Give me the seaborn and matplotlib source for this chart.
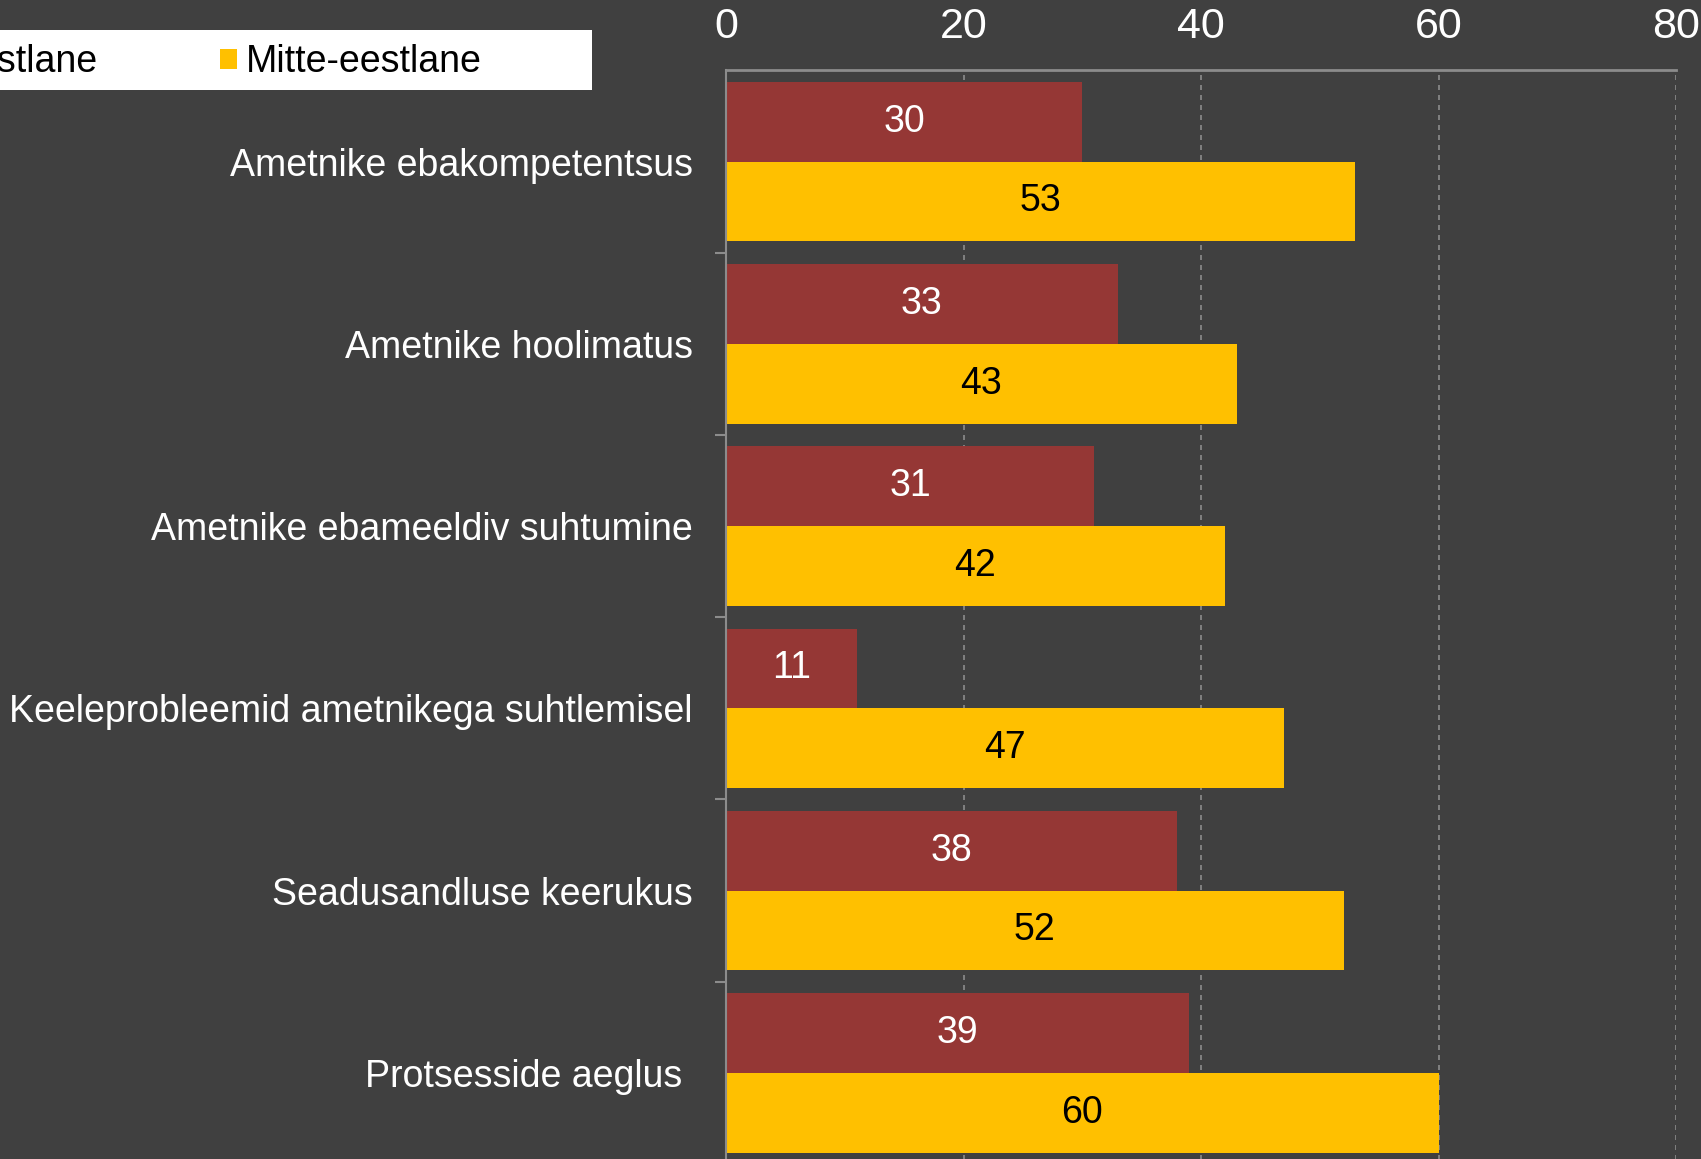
import pandas as pd
import matplotlib
matplotlib.use("Agg")
import matplotlib.pyplot as plt
import matplotlib.ticker as mticker
import seaborn as sns

# data
categories = [
    "Ametnike ebakompetentsus",
    "Ametnike hoolimatus",
    "Ametnike ebameeldiv suhtumine",
    "Keeleprobleemid ametnikega suhtlemisel",
    "Seadusandluse keerukus",
    "Protsesside aeglus ",
]
groups = ["Eestlane", "Mitte-eestlane"]
eestlane = [30, 33, 31, 11, 38, 39]
mitte_eestlane = [53, 43, 42, 47, 52, 60]
x_ticks = [0, 20, 40, 60, 80]

bg = "#404040"
red = "#953735"
yellow = "#FFC000"
grey = "#8C8C8C"

df = pd.DataFrame({
    "kategooria": categories * 2,
    "grupp": [groups[0]] * len(categories) + [groups[1]] * len(categories),
    "protsent": eestlane + mitte_eestlane,
})

sns.set_style("dark")
plt.rcParams["font.family"] = ["Liberation Sans", "DejaVu Sans"]

fig = plt.figure(figsize=(17.01, 11.59), dpi=100, facecolor=bg)
ax = fig.add_axes([726 / 1701, -0.0043, 950 / 1701, 0.9435])
ax.set_facecolor(bg)

sns.barplot(data=df, y="kategooria", x="protsent", hue="grupp",
            order=categories, hue_order=groups,
            palette=[red, yellow], orient="h", width=0.875,
            saturation=1, linewidth=0, ax=ax)

ax.set_xlim(0, 80)
ax.set_ylim(5.5, -0.5)
ax.set_xlabel("")
ax.set_ylabel("")

# x axis on top
ax.xaxis.tick_top()
ax.set_xticks(x_ticks)
ax.tick_params(axis="x", length=0, pad=17, labelsize=31, labelcolor="white")
ax.grid(axis="x", color=grey, linestyle=(0, (3, 3)), linewidth=1.2)
ax.grid(axis="y", visible=False)
ax.set_axisbelow(True)

# y axis labels and band ticks
ax.tick_params(axis="y", which="major", length=0, pad=24, labelsize=27, labelcolor="white")
ax.yaxis.set_minor_locator(mticker.FixedLocator([0.5, 1.5, 2.5, 3.5, 4.5, 5.5]))
ax.tick_params(axis="y", which="minor", length=8, width=1.5, color=grey, left=True)

for side in ["right", "bottom"]:
    ax.spines[side].set_visible(False)
ax.spines["top"].set_color(grey)
ax.spines["top"].set_linewidth(2)
ax.spines["left"].set_color(grey)
ax.spines["left"].set_linewidth(1.5)

# value labels in the middle of the bars
for cont, col in zip(ax.containers, ["white", "black"]):
    ax.bar_label(cont, label_type="center", color=col, fontsize=27)

# legend on a white strip running off the left edge
handles, labels = ax.get_legend_handles_labels()
ax.get_legend().remove()
fig.patches.append(plt.Rectangle((-0.05, 1 - 90 / 1159), 0.05 + 592 / 1701, 60 / 1159,
                                 transform=fig.transFigure, facecolor="white",
                                 edgecolor="none", zorder=0))
fig.legend(handles, labels, ncol=2, loc="center right",
           bbox_to_anchor=(482 / 1701, 1 - 62 / 1159), frameon=False,
           fontsize=27, labelcolor="black", handlelength=0.45, handleheight=0.45,
           handletextpad=0.25, columnspacing=3.26, borderpad=0, borderaxespad=0)

fig.savefig("out.png", dpi=100, facecolor=bg)
